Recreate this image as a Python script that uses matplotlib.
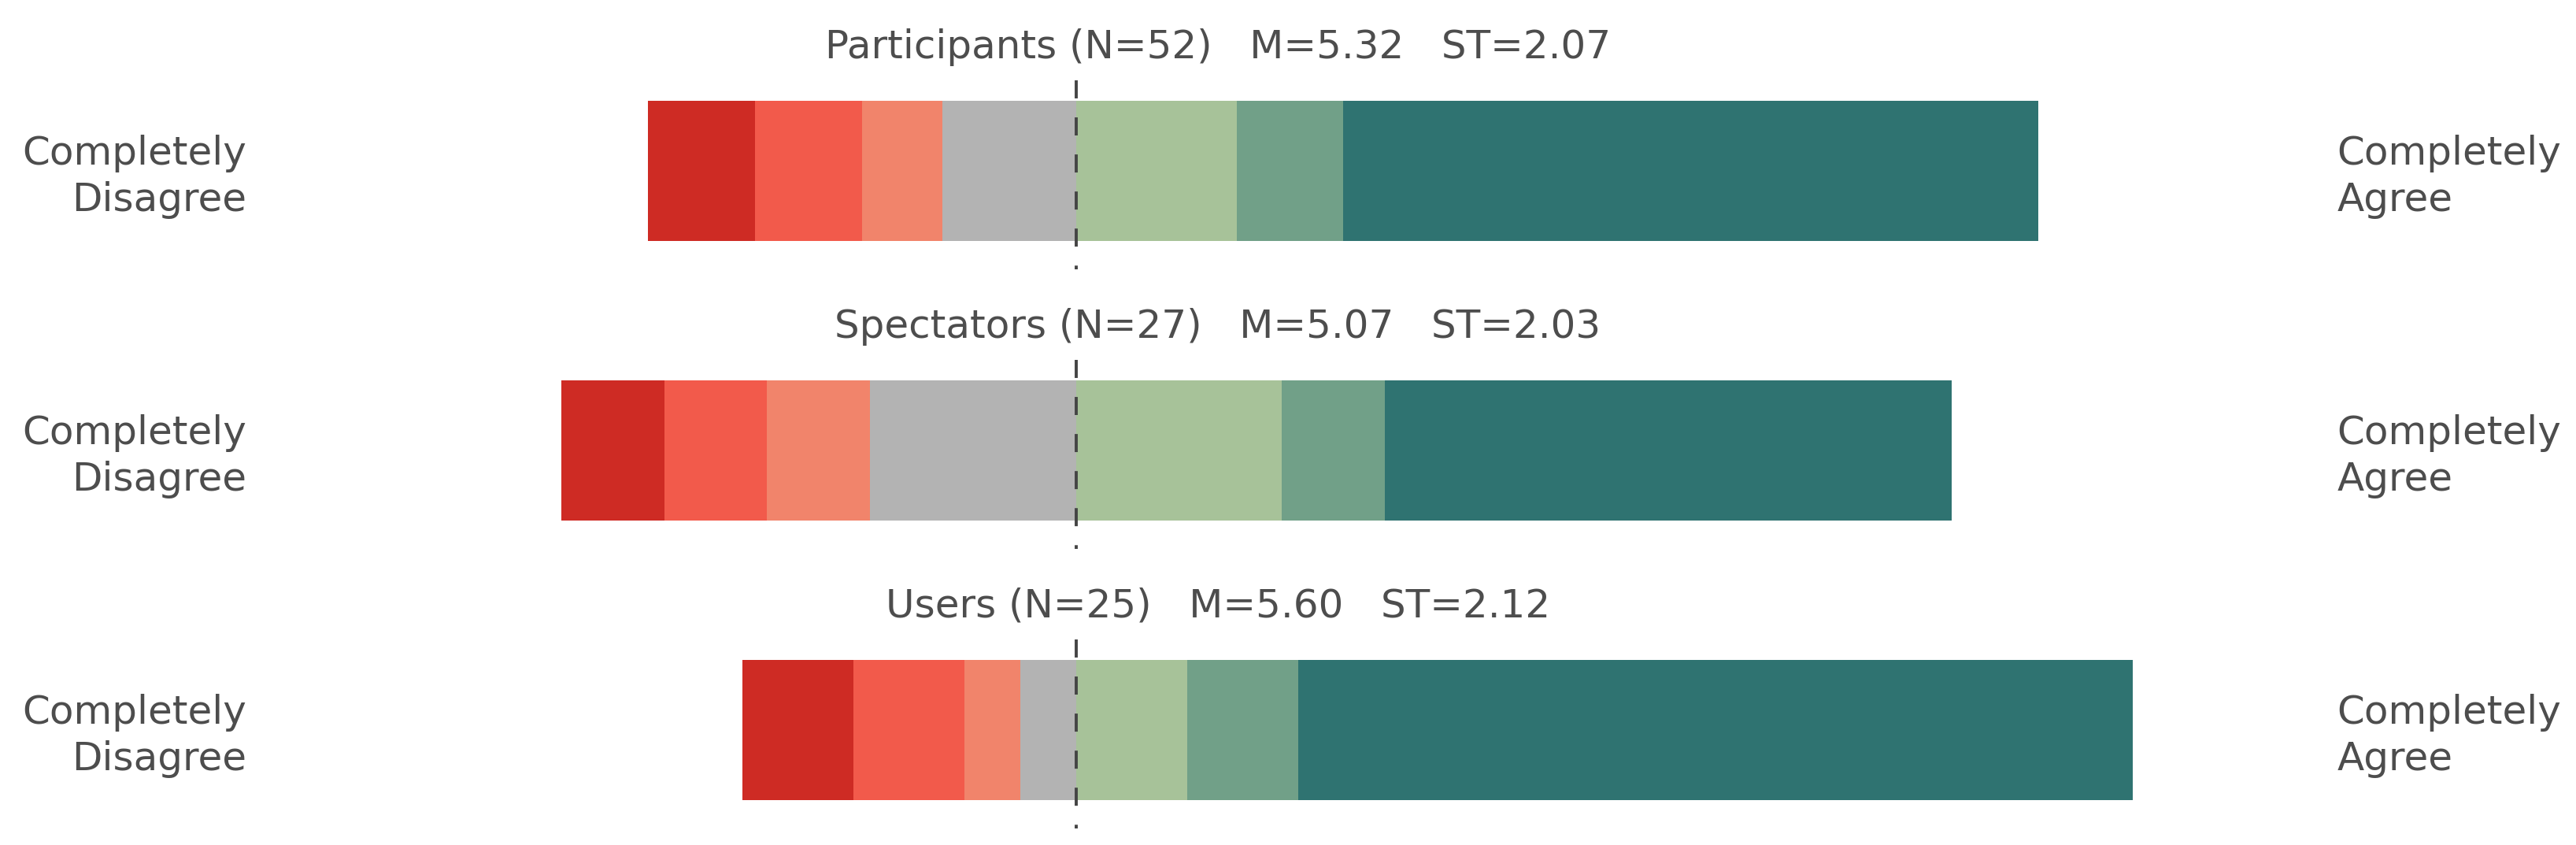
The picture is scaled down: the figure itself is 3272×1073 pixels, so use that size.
import matplotlib
matplotlib.use('Agg')
import matplotlib.pyplot as plt
import numpy as np

# answer counts per group, 1 = completely disagree ... 7 = completely agree
groups = ['Participants', 'Spectators', 'Users']
counts = {
    'Participants': [4, 4, 3, 5, 6, 4, 26],
    'Spectators': [2, 2, 2, 4, 4, 2, 11],
    'Users': [2, 2, 1, 1, 2, 2, 15],
}
means = [5.32, 5.07, 5.60]
stds = [2.07, 2.03, 2.12]

colors = ['#ce2b24', '#f25a4b', '#f1846b', '#b3b3b3', '#a7c299', '#71a088', '#2f7371']
n_neg = 4  # first four categories are drawn left of the zero line

txt_col = '#4d4d4d'
fsize = 18

fig = plt.figure(figsize=(16.365, 5.365), dpi=200)

ax_h = 240 / 1073
step = 355 / 1073
bottom0 = 1 - 342 / 1073

for i, g in enumerate(groups):
    ax = fig.add_axes([0, bottom0 - i * step, 1, ax_h])
    c = np.array(counts[g], dtype=float)
    n = int(c.sum())
    pct = c / c.sum() * 100
    left = -pct[:n_neg].sum()
    for k in range(len(pct)):
        ax.barh(0, pct[k], left=left, height=0.8, color=colors[k], linewidth=0)
        left += pct[k]
    ax.axvline(0, ymin=1, ymax=0, color='#444444', lw=1.4,
               linestyle=(0, (5.9, 6.2)), zorder=5)
    ax.set_xlim(-77.4, 107.95)
    ax.set_ylim(-0.562, 0.518)
    ax.axis('off')

    title = '%s (N=%d)   M=%.2f   ST=%.2f' % (g, n, means[i], stds[i])
    ax.text(0.4726, 1.175, title, transform=ax.transAxes, ha='center', va='center',
            fontsize=fsize, color=txt_col)
    ax.text(0.0957, 0.49, 'Completely\nDisagree', transform=ax.transAxes, ha='right',
            va='center', fontsize=fsize, color=txt_col, linespacing=1.3,
            multialignment='right')
    ax.text(0.907, 0.49, 'Completely\nAgree', transform=ax.transAxes, ha='left',
            va='center', fontsize=fsize, color=txt_col, linespacing=1.3,
            multialignment='left')

fig.savefig('out.png', dpi=200, facecolor='white')
